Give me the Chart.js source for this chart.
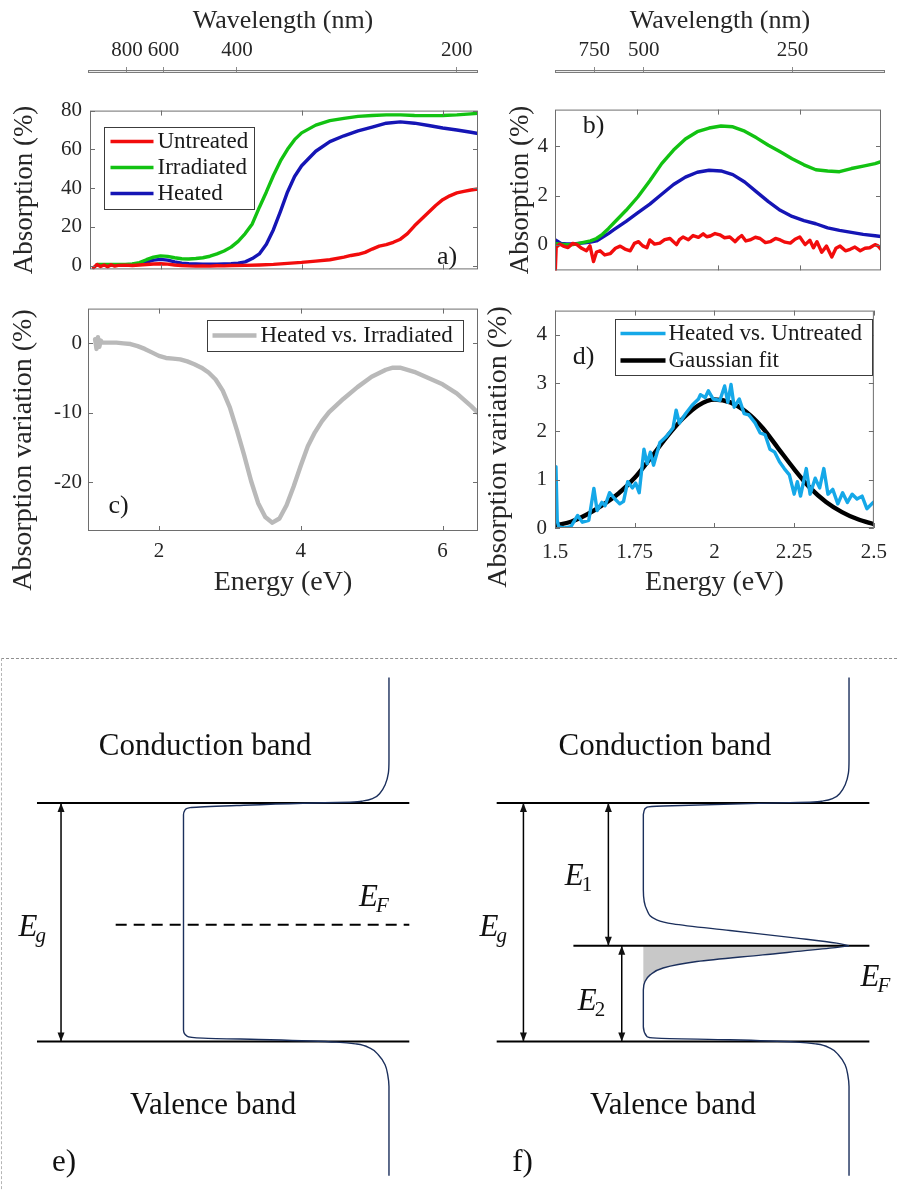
<!DOCTYPE html>
<html lang="en">
<head>
<meta charset="utf-8">
<title>Absorption spectra and band diagrams</title>
<script src="https://cdn.jsdelivr.net/npm/chart.js@4.4.1/dist/chart.umd.min.js"></script>
<style>
  html, body { margin: 0; padding: 0; background: #fff; }
  #figure { position: relative; width: 899px; height: 1191px; overflow: hidden; background: #fff; }
  #figure canvas { position: absolute; }
  #frame { position: absolute; left: 1px; top: 658px; width: 910px; height: 560px;
           border-top: 1px dashed #8f8f8f; border-left: 1px dashed #b5b5b5; }
</style>
</head>
<body>
<div id="figure">
  <div id="frame"></div>
  <canvas id="waveA" width="480" height="74" style="left:0;top:0"></canvas>
  <canvas id="chartA" width="480" height="200" style="left:0;top:90px"></canvas>
  <canvas id="waveB" width="419" height="74" style="left:480px;top:0"></canvas>
  <canvas id="chartB" width="419" height="200" style="left:480px;top:90px"></canvas>
  <canvas id="chartC" width="480" height="310" style="left:0;top:290px"></canvas>
  <canvas id="chartD" width="419" height="310" style="left:480px;top:290px"></canvas>
  <canvas id="bandE" width="450" height="541" style="left:0;top:650px"></canvas>
  <canvas id="bandF" width="449" height="541" style="left:450px;top:650px"></canvas>
</div>
<script>
const SERIF = "'Liberation Serif', 'Times New Roman', serif";
Chart.defaults.font.family = SERIF;
Chart.defaults.color = '#262626';

// ======== DATA ========
const HC = 1239.84; // eV*nm, wavelength -> photon energy

// wavelength axes on top of a) and b)
const waveTicksA = [800, 600, 400, 200];
const waveTicksB = [750, 500, 250];

// a) absorption spectra
const energyA = [1.1, 1.2, 1.3, 1.4, 1.5, 1.6, 1.7, 1.8, 1.9, 2.0, 2.1, 2.2, 2.3, 2.4, 2.5, 2.6, 2.7, 2.8, 2.9, 3.0,
  3.1, 3.2, 3.3, 3.4, 3.5, 3.6, 3.7, 3.8, 3.9, 4.0, 4.2, 4.4, 4.6, 4.8, 5.0, 5.2, 5.4, 5.6, 5.8, 6.0, 6.2, 6.4, 6.5];
const irradiatedA = [0.5, 0.5, 0.5, 0.5, 0.6, 0.8, 1.5, 3.0, 4.3, 5.0, 4.7, 4.0, 3.5, 3.4, 3.6, 4.0, 4.8, 6.0, 7.5, 9.5,
  12.5, 16.5, 21.5, 30, 38, 46.5, 54, 60, 65, 68.5, 72.5, 74.8, 76, 77, 77.5, 77.8, 77.8, 77.5, 77.4, 77.5, 77.8, 78.3, 78.6];
const heatedA = [0.3, 0.3, 0.3, 0.3, 0.4, 0.6, 1.0, 1.8, 2.8, 3.2, 2.8, 1.9, 1.2, 0.9, 0.8, 0.7, 0.7, 0.7, 0.8, 0.9,
  1.2, 1.9, 3.6, 6.0, 11, 18.5, 28, 38, 46, 51.5, 59, 64, 67, 69.5, 71.5, 73.5, 74.2, 73.5, 72.3, 71, 70, 68.8, 68.2];
const energyUntreatedA = [1.05, 1.1, 1.15, 1.2, 1.25, 1.3, 1.35, 1.4, 1.5, 1.6, 1.7, 1.8, 1.9, 2.0, 2.1, 2.2, 2.3, 2.4, 2.5, 2.6,
  2.7, 2.8, 2.9, 3.0, 3.2, 3.4, 3.6, 3.8, 4.0, 4.2, 4.4, 4.6, 4.7, 4.8, 4.9, 5.0, 5.1, 5.2, 5.3, 5.4,
  5.5, 5.6, 5.7, 5.8, 5.9, 6.0, 6.1, 6.2, 6.3, 6.4, 6.5];
const untreatedA = [-1.2, 0.5, -0.5, 0.3, -0.6, 0.4, -0.3, 0.1, 0.2, 0, 0.3, 0.5, 0.8, 0.9, 0.7, 0.3, 0, -0.2, -0.3, -0.2,
  -0.3, -0.1, -0.2, 0, 0.1, 0.3, 0.6, 1.1, 1.6, 2.3, 3.0, 4.3, 5.2, 5.8, 6.8, 8.5, 10, 10.8, 12, 13.6,
  16.5, 20.5, 24, 27.5, 31, 34, 36, 37.5, 38.3, 39, 39.5];
const xTicksA = [2, 4, 6];
const yTicksA = [0, 20, 40, 60, 80];

// b) low absorption detail
const energyB = [1.0, 1.1, 1.2, 1.3, 1.4, 1.5, 1.6, 1.7, 1.8, 1.9, 2.0, 2.2, 2.4, 2.6, 2.8, 3.0, 3.2, 3.4, 3.6, 3.8,
  4.0, 4.2, 4.4, 4.6, 4.8, 5.0, 5.2, 5.4, 5.6, 5.8, 6.0, 6.2, 6.4, 6.5];
const irradiatedB = [0.05, 0.02, 0, 0, 0.05, 0.1, 0.15, 0.25, 0.42, 0.65, 0.9, 1.4, 1.95, 2.6, 3.3, 3.85, 4.3, 4.6, 4.75, 4.83,
  4.8, 4.62, 4.35, 4.05, 3.78, 3.5, 3.25, 3.05, 3.0, 2.97, 3.1, 3.2, 3.3, 3.38];
const heatedB = [0.2, 0.05, 0.03, 0.03, 0.05, 0.07, 0.1, 0.15, 0.3, 0.45, 0.62, 0.95, 1.3, 1.65, 2.05, 2.45, 2.75, 2.95, 3.03, 3.0,
  2.85, 2.55, 2.15, 1.75, 1.4, 1.15, 0.98, 0.85, 0.68, 0.58, 0.5, 0.42, 0.36, 0.33];
const energyUntreatedB = [1.0, 1.005, 1.02, 1.08, 1.14, 1.22, 1.3, 1.37, 1.45, 1.53, 1.59, 1.65, 1.7, 1.76, 1.84, 1.93, 2.02, 2.10, 2.18, 2.27,
  2.34, 2.41, 2.48, 2.55, 2.60, 2.68, 2.77, 2.85, 2.94, 3.05, 3.1, 3.16, 3.25, 3.33, 3.42, 3.5, 3.56, 3.62, 3.7, 3.78,
  3.86, 3.95, 4.04, 4.1, 4.15, 4.22, 4.29, 4.38, 4.46, 4.55, 4.63, 4.72, 4.80, 4.88, 4.97, 5.05, 5.13, 5.22, 5.3, 5.36,
  5.42, 5.5, 5.58, 5.67, 5.74, 5.81, 5.9, 5.98, 6.06, 6.15, 6.23, 6.31, 6.4, 6.45, 6.5];
const untreatedB = [-0.13, -1.05, -0.1, 0.02, -0.06, -0.12, 0.05, 0, -0.15, -0.25, -0.05, -0.69, -0.3, -0.25, -0.42, -0.37, -0.15, -0.06, -0.18, -0.25,
  0.05, 0.12, -0.05, -0.13, 0.19, 0.02, 0.06, 0.2, 0.25, 0, 0.2, 0.31, 0.2, 0.37, 0.3, 0.44, 0.32, 0.35, 0.45, 0.4,
  0.28, 0.31, 0.12, 0.28, 0.37, 0.15, 0.19, 0.3, 0.25, 0.08, 0.12, 0.25, 0.19, 0.1, 0.06, 0.22, 0.31, 0, 0.18, -0.13,
  0.12, -0.31, -0.06, -0.5, -0.15, -0.06, -0.25, -0.19, -0.1, -0.25, -0.15, -0.13, 0, -0.05, -0.19];
const xTicksB = [2.38, 3.75, 5.13];
const yTicksB = [0, 2, 4];

// c) heated vs. irradiated
const energyC = [1.1, 1.12, 1.14, 1.16, 1.18, 1.2, 1.3, 1.4, 1.5, 1.6, 1.7, 1.8, 1.9, 2.0, 2.1, 2.2, 2.3, 2.4, 2.5, 2.6,
  2.7, 2.8, 2.9, 3.0, 3.1, 3.2, 3.3, 3.4, 3.5, 3.6, 3.7, 3.8, 3.9, 4.0, 4.1, 4.2, 4.3, 4.4, 4.6, 4.8,
  5.0, 5.2, 5.3, 5.4, 5.6, 5.8, 6.0, 6.2, 6.4, 6.5];
const heatedVsIrradiated = [0.6, -0.8, 0.9, -0.5, 0.4, 0.1, 0.1, 0.1, 0, -0.1, -0.4, -0.8, -1.3, -1.8, -2.1, -2.2, -2.3, -2.6, -3.0, -3.5,
  -4.2, -5.2, -6.8, -9.2, -12.5, -16.0, -19.8, -23.0, -25.0, -25.8, -25.2, -23.3, -20.6, -17.6, -14.8, -12.8, -11.2, -9.9, -8.0, -6.3,
  -4.8, -3.8, -3.5, -3.5, -4.1, -5.0, -5.9, -7.2, -9.0, -10.0];
const xTicksC = [2, 4, 6];
const yTicksC = [-20, -10, 0];

// d) heated vs. untreated + gaussian fit
const energyD = [1.5, 1.503, 1.507, 1.512, 1.53, 1.55, 1.571, 1.586, 1.606, 1.622, 1.632, 1.647, 1.657, 1.671, 1.688, 1.703, 1.715, 1.728, 1.743, 1.753,
  1.764, 1.779, 1.789, 1.799, 1.809, 1.829, 1.85, 1.87, 1.88, 1.89, 1.91, 1.93, 1.95, 1.956, 1.971, 1.981, 1.996, 2.017, 2.032, 2.042,
  2.052, 2.062, 2.078, 2.093, 2.108, 2.128, 2.143, 2.159, 2.174, 2.189, 2.204, 2.219, 2.235, 2.25, 2.26, 2.27, 2.288, 2.30, 2.316, 2.33,
  2.343, 2.356, 2.371, 2.387, 2.402, 2.417, 2.432, 2.447, 2.463, 2.478, 2.498];
const heatedVsUntreated = [0.25, 1.27, 0.15, 0.02, 0.0, 0.03, 0.26, 0.12, 0.16, 0.82, 0.36, 0.53, 0.46, 0.73, 0.6, 0.5, 0.55, 0.96, 0.83, 0.93,
  0.73, 1.63, 1.33, 1.57, 1.3, 1.77, 1.9, 2.07, 2.44, 2.17, 2.37, 2.54, 2.67, 2.76, 2.70, 2.84, 2.67, 2.64, 2.94, 2.6,
  2.97, 2.5, 2.67, 2.37, 2.34, 2.17, 1.97, 1.93, 1.63, 1.57, 1.37, 1.23, 1.1, 0.70, 0.96, 0.66, 1.23, 0.7, 1.03, 0.83,
  1.23, 0.70, 0.80, 0.50, 0.73, 0.53, 0.70, 0.6, 0.66, 0.4, 0.53];
const energyFit = [1.5, 1.55, 1.6, 1.65, 1.7, 1.75, 1.8, 1.85, 1.9, 1.95, 2.0, 2.05, 2.1, 2.15, 2.2, 2.25, 2.3, 2.35, 2.4, 2.45, 2.5];
const gaussianFit = [0.05, 0.13, 0.28, 0.48, 0.72, 1.04, 1.45, 1.88, 2.26, 2.54, 2.66, 2.6, 2.4, 2.08, 1.65, 1.22, 0.83, 0.54, 0.33, 0.18, 0.08];
const xTicksD = [1.5, 1.75, 2, 2.25, 2.5];
const yTicksD = [0, 1, 2, 3, 4];

// e), f) band diagrams: E = energy (valence edge 0, conduction edge 1), D = density of states (a.u.)
const bandEdgeD = [-0.713, 1.099];
const fermiE_e = 0.489;
const fermiLineD_e = [-0.330, 1.099];
const fermiE_f = 0.401;
const fermiLineD_f = [-0.340, 1.099];
const dosD_e = [1.0, 1.0, 0.997, 0.981, 0.956, 0.924, 0.875, 0.810, 0.582, 0.259, 0.032, 0.007, 0, 0,
  0.016, 0.095, 0.421, 0.745, 0.843, 0.908, 0.948, 0.981, 0.994, 1.0, 1.0];
const dosE_e = [1.526, 1.180, 1.1245, 1.0754, 1.0407, 1.0197, 1.0084, 1.0029, 0.9987, 0.989, 0.980, 0.970, 0.950, 0.049,
  0.023, 0.014, 0.007, -0.003, -0.011, -0.028, -0.056, -0.098, -0.140, -0.189, -0.563];
const dosUpperD_f = [1.0, 1.0, 0.997, 0.981, 0.956, 0.924, 0.875, 0.810, 0.713, 0.096, 0.018, 0.003, 0, 0,
  0.017, 0.065, 0.144, 0.421, 0.746, 0.940, 1.0];
const dosUpperE_f = [1.526, 1.180, 1.1245, 1.0754, 1.0407, 1.0197, 1.0084, 1.0029, 1.001, 0.987, 0.982, 0.964, 0.950, 0.635,
  0.552, 0.510, 0.493, 0.465, 0.433, 0.412, 0.401];
const dosLowerD_f = [1.0, 0.907, 0.581, 0.260, 0.096, 0.033, 0.008, 0, 0, 0.017,
  0.065, 0.421, 0.745, 0.843, 0.908, 0.948, 0.981, 0.994, 1.0, 1.0];
const dosLowerE_f = [0.401, 0.391, 0.363, 0.335, 0.308, 0.279, 0.251, 0.216, 0.062, 0.021,
  0.014, 0.007, -0.003, -0.011, -0.028, -0.056, -0.098, -0.140, -0.189, -0.563];
const occupiedD_f = [1.0, 0.907, 0.581, 0.260, 0.096, 0.033, 0.008, 0];
const occupiedE_f = [0.401, 0.391, 0.363, 0.335, 0.308, 0.279, 0.251, 0.216];
const gapArrowD_e = -0.596;
const gapArrowD_f = -0.583;
const e1ArrowD_f = -0.170;
const e2ArrowD_f = -0.105;

const pts = (xs, ys) => xs.map((x, i) => ({ x, y: ys[i] }));

// ======== PLUGINS ========
function drawLegend(chart, L) {
  const { ctx, chartArea: a } = chart;
  const x0 = Math.round(a.left + L.left) + 0.5, y0 = Math.round(a.top + L.top) + 0.5;
  ctx.fillStyle = '#fff';
  ctx.fillRect(x0, y0, L.width, L.height);
  ctx.strokeStyle = '#3c3c3c';
  ctx.lineWidth = 1;
  ctx.strokeRect(x0, y0, L.width, L.height);
  ctx.font = `${L.size}px ${SERIF}`;
  ctx.textBaseline = 'middle';
  ctx.textAlign = 'left';
  chart.data.datasets.forEach((ds, i) => {
    const y = y0 + L.first + i * L.step;
    ctx.strokeStyle = ds.borderColor;
    ctx.lineWidth = ds.borderWidth;
    ctx.beginPath();
    ctx.moveTo(x0 + L.lineFrom, y);
    ctx.lineTo(x0 + L.lineTo, y);
    ctx.stroke();
    ctx.fillStyle = '#1a1a1a';
    ctx.fillText(ds.label, x0 + L.textX, y);
  });
}

const panelDeco = {
  id: 'panelDeco',
  beforeDraw(chart, args, o) {
    if (!o.strip) return;
    const { ctx, chartArea: a } = chart;
    ctx.save();
    ctx.fillStyle = '#ececec';
    ctx.fillRect(a.left, a.top, a.width, a.height);
    ctx.restore();
  },
  afterDraw(chart, args, o) {
    const { ctx, chartArea: a, scales } = chart;
    ctx.save();
    if (o.strip) {
      ctx.strokeStyle = '#7b7b7b';
      ctx.lineWidth = 1;
      ctx.strokeRect(a.left + 0.5, a.top + 0.5, a.width - 1, a.height - 1);
    }
    if (o.box) {
      // MATLAB style box with inward ticks on all four sides
      ctx.strokeStyle = '#6e6e6e';
      ctx.lineWidth = 1;
      ctx.strokeRect(a.left + 0.5, a.top + 0.5, a.width - 1, a.height - 1);
      ctx.beginPath();
      scales.x.ticks.forEach(t => {
        const p = Math.round(scales.x.getPixelForValue(t.value)) + 0.5;
        ctx.moveTo(p, a.top); ctx.lineTo(p, a.top + 5);
        ctx.moveTo(p, a.bottom); ctx.lineTo(p, a.bottom - 5);
      });
      scales.y.ticks.forEach(t => {
        const p = Math.round(scales.y.getPixelForValue(t.value)) + 0.5;
        ctx.moveTo(a.left, p); ctx.lineTo(a.left + 5, p);
        ctx.moveTo(a.right, p); ctx.lineTo(a.right - 5, p);
      });
      ctx.stroke();
    }
    if (o.legend) drawLegend(chart, o.legend);
    if (o.tag) {
      ctx.fillStyle = '#1a1a1a';
      ctx.font = `26px ${SERIF}`;
      ctx.textAlign = 'center';
      ctx.textBaseline = 'middle';
      ctx.fillText(o.tag.text, a.left + o.tag.x, a.top + o.tag.y);
    }
    if (o.yTitle) {
      ctx.fillStyle = '#262626';
      ctx.font = `28px ${SERIF}`;
      ctx.textAlign = 'center';
      ctx.textBaseline = 'middle';
      ctx.translate(o.yTitle.x, o.yTitle.y);
      ctx.rotate(-Math.PI / 2);
      ctx.fillText(o.yTitle.text, 0, 0);
    }
    ctx.restore();
  }
};

function arrowHead(ctx, tip, from) {
  const dx = tip.x - from.x, dy = tip.y - from.y;
  const d = Math.hypot(dx, dy);
  const ux = dx / d, uy = dy / d;
  const bx = tip.x - ux * 9, by = tip.y - uy * 9;
  ctx.beginPath();
  ctx.moveTo(tip.x, tip.y);
  ctx.lineTo(bx - uy * 3.5, by + ux * 3.5);
  ctx.lineTo(bx + uy * 3.5, by - ux * 3.5);
  ctx.closePath();
  ctx.fill();
}

function drawBandLabel(ctx, l, x, y) {
  ctx.fillStyle = '#111';
  ctx.font = `${l.italic ? 'italic ' : ''}${l.size}px ${SERIF}`;
  if (!l.sub) {
    ctx.textAlign = 'center';
    ctx.textBaseline = 'middle';
    ctx.fillText(l.t, x, y);
    return;
  }
  const w = ctx.measureText(l.t).width;
  const base = y + l.size * 0.33;
  ctx.textAlign = 'left';
  ctx.textBaseline = 'alphabetic';
  ctx.fillText(l.t, x - w / 2, base);
  ctx.font = `${l.subItalic ? 'italic ' : ''}${Math.round(l.size * 0.68)}px ${SERIF}`;
  ctx.fillText(l.sub, x + w / 2 - l.size * 0.06, base + l.size * 0.2);
}

const bandDeco = {
  id: 'bandDeco',
  afterDatasetsDraw(chart, args, o) {
    if (!o.labels) return;
    const { ctx, scales: { x, y } } = chart;
    ctx.save();
    ctx.fillStyle = '#111';
    chart.data.datasets.forEach((ds, i) => {
      if (!ds.arrow) return;
      const [p, q] = chart.getDatasetMeta(i).data;
      arrowHead(ctx, p, q);
      arrowHead(ctx, q, p);
    });
    o.labels.forEach(l => drawBandLabel(ctx, l, x.getPixelForValue(l.D), y.getPixelForValue(l.E)));
    ctx.restore();
  }
};

Chart.register(panelDeco, bandDeco);

// ======== WAVELENGTH AXES ========
function waveAxis(id, waves, pad) {
  return new Chart(document.getElementById(id), {
    type: 'line',
    data: { datasets: [] },
    options: {
      responsive: false, animation: false, devicePixelRatio: 1,
      layout: { padding: pad },
      plugins: { legend: { display: false }, tooltip: { enabled: false }, panelDeco: { strip: true } },
      scales: {
        x: {
          type: 'linear', position: 'top', min: 1, max: 6.5, bounds: 'data',
          afterBuildTicks: s => { s.ticks = waves.map(w => ({ value: HC / w })); },
          afterFit: s => { s.height = 70; },
          grid: { display: true, drawOnChartArea: true, drawTicks: true, tickLength: 3, color: '#8a8a8a' },
          border: { display: false },
          ticks: { font: { size: 21 }, padding: 4, autoSkip: false, maxRotation: 0, callback: (v, i) => String(waves[i]) },
          title: { display: true, text: 'Wavelength (nm)', font: { size: 26 }, padding: { top: 6, bottom: 0 } }
        },
        y: { display: false, min: 0, max: 1 }
      }
    }
  });
}
waveAxis('waveA', waveTicksA, { left: 88, right: 2, top: 0, bottom: 1 });
waveAxis('waveB', waveTicksB, { left: 75, right: 14, top: 0, bottom: 1 });

// ======== SPECTRA ========
function spectrumChart(id, s) {
  return new Chart(document.getElementById(id), {
    type: 'line',
    data: { datasets: s.datasets },
    options: {
      responsive: false, animation: false, devicePixelRatio: 1,
      layout: { padding: s.padding },
      elements: { point: { radius: 0 }, line: { tension: 0, borderJoinStyle: 'round', borderCapStyle: 'round' } },
      plugins: { legend: { display: false }, tooltip: { enabled: false }, panelDeco: s.deco },
      scales: {
        x: {
          type: 'linear', min: s.x.min, max: s.x.max, bounds: 'data',
          afterBuildTicks: sc => { sc.ticks = s.x.ticks.map(v => ({ value: v })); },
          afterFit: sc => { sc.height = s.x.height; },
          grid: { display: false, drawTicks: false },
          border: { display: false },
          ticks: { display: !!s.x.labels, padding: s.x.pad || 0, font: { size: 21 }, autoSkip: false, maxRotation: 0, callback: v => String(v) },
          title: { display: !!s.x.title, text: s.x.title || '', font: { size: 28 }, padding: { top: 0, bottom: 1 } }
        },
        y: {
          type: 'linear', min: s.y.min, max: s.y.max, bounds: 'data',
          afterBuildTicks: sc => { sc.ticks = s.y.ticks.map(v => ({ value: v })); },
          afterFit: sc => { sc.width = s.y.width; },
          grid: { display: false, drawTicks: false },
          border: { display: false },
          ticks: { padding: s.y.pad, font: { size: 21 }, autoSkip: false, callback: v => String(v) },
          title: { display: !!s.y.title, text: s.y.title || '', font: { size: 27 }, padding: { top: s.y.titlePad || 0, bottom: 0 } }
        }
      }
    }
  });
}

const RED = '#f20c0c', GREEN = '#12c212', BLUE = '#1515b5';

spectrumChart('chartA', {
  padding: { left: 0, top: 16, right: 2, bottom: 0 },
  datasets: [
    { label: 'Untreated', data: pts(energyUntreatedA, untreatedA), borderColor: RED, borderWidth: 3.4 },
    { label: 'Irradiated', data: pts(energyA, irradiatedA), borderColor: GREEN, borderWidth: 3.4 },
    { label: 'Heated', data: pts(energyA, heatedA), borderColor: BLUE, borderWidth: 3.4 }
  ],
  x: { min: 1, max: 6.5, ticks: xTicksA, height: 10 },
  y: { min: -2, max: 80, ticks: yTicksA, width: 90, pad: 8, title: 'Absorption (%)', titlePad: 9 },
  deco: {
    box: true, tag: { text: 'a)', x: 357, y: 147 },
    legend: { left: 14, top: 16, width: 150, height: 82, first: 14, step: 26, lineFrom: 6, lineTo: 49, textX: 53, size: 23 }
  }
});

spectrumChart('chartB', {
  padding: { left: 0, top: 17, right: 18, bottom: 0 },
  datasets: [
    { label: 'Untreated', data: pts(energyUntreatedB, untreatedB), borderColor: RED, borderWidth: 3.4 },
    { label: 'Irradiated', data: pts(energyB, irradiatedB), borderColor: GREEN, borderWidth: 3.4 },
    { label: 'Heated', data: pts(energyB, heatedB), borderColor: BLUE, borderWidth: 3.4 }
  ],
  x: { min: 1, max: 6.5, ticks: xTicksB, height: 9 },
  y: { min: -1.05, max: 5.5, ticks: yTicksB, width: 75, pad: 7, title: 'Absorption (%)', titlePad: 25 },
  deco: { box: true, tag: { text: 'b)', x: 38.5, y: 17 } }
});

spectrumChart('chartC', {
  padding: { left: 0, top: 14, right: 2, bottom: 0 },
  datasets: [
    { label: 'Heated vs. Irradiated', data: pts(energyC, heatedVsIrradiated), borderColor: '#b9b9b9', borderWidth: 4.4 }
  ],
  x: { min: 1, max: 6.5, ticks: xTicksC, height: 69, labels: true, pad: 8, title: 'Energy (eV)' },
  y: { min: -27, max: 5, ticks: yTicksC, width: 88, pad: 6 },
  deco: {
    box: true, tag: { text: 'c)', x: 30.5, y: 198 },
    yTitle: { text: 'Absorption variation (%)', x: 24, y: 160 },
    legend: { left: 119, top: 11, width: 256, height: 31, first: 15, step: 0, lineFrom: 5, lineTo: 49, textX: 53, size: 23 }
  }
});

spectrumChart('chartD', {
  padding: { left: 0, top: 14, right: 15, bottom: 0 },
  datasets: [
    { label: 'Heated vs. Untreated', data: pts(energyD, heatedVsUntreated), borderColor: '#15a8e8', borderWidth: 3.4 },
    { label: 'Gaussian fit', data: pts(energyFit, gaussianFit), borderColor: '#000', borderWidth: 4.4, cubicInterpolationMode: 'monotone' }
  ],
  x: { min: 1.5, max: 2.5, ticks: xTicksD, height: 72, labels: true, pad: 12, title: 'Energy (eV)' },
  y: { min: 0, max: 4.5, ticks: yTicksD, width: 75, pad: 8 },
  deco: {
    box: true, tag: { text: 'd)', x: 28.5, y: 47 },
    yTitle: { text: 'Absorption variation (%)', x: 19, y: 157 },
    legend: { left: 60, top: 8, width: 257, height: 56, first: 14, step: 27, lineFrom: 5, lineTo: 50, textX: 53, size: 23 }
  }
});

// ======== BAND DIAGRAMS ========
const NAVY = '#1b2f5c';
const straight = (D, E, extra) => Object.assign({ data: pts(D, E), borderColor: '#000', borderWidth: 2 }, extra || {});
const dosCurve = (D, E) => ({ data: pts(D, E), borderColor: NAVY, borderWidth: 1.4, cubicInterpolationMode: 'monotone' });

function bandChart(id, b) {
  return new Chart(document.getElementById(id), {
    type: 'line',
    data: { datasets: b.datasets },
    options: {
      responsive: false, animation: false, devicePixelRatio: 1,
      indexAxis: 'y',
      layout: { padding: 0 },
      elements: { point: { radius: 0 }, line: { tension: 0 } },
      plugins: { legend: { display: false }, tooltip: { enabled: false }, bandDeco: { labels: b.labels } },
      scales: {
        x: { type: 'linear', display: false, min: b.dMin, max: b.dMax },
        y: { type: 'linear', display: false, min: -0.627, max: 1.641 }
      }
    }
  });
}

bandChart('bandE', {
  dMin: -0.893, dMax: 1.297,
  datasets: [
    dosCurve(dosD_e, dosE_e),
    straight(bandEdgeD, [1, 1]),
    straight(bandEdgeD, [0, 0]),
    straight(fermiLineD_e, [fermiE_e, fermiE_e], { borderDash: [11, 7] }),
    straight([gapArrowD_e, gapArrowD_e], [0, 1], { borderWidth: 1.5, arrow: true })
  ],
  labels: [
    { t: 'Conduction band', D: 0.105, E: 1.236, size: 31 },
    { t: 'Valence band', D: 0.144, E: -0.268, size: 31 },
    { t: 'e)', D: -0.581, E: -0.507, size: 31 },
    { t: 'E', sub: 'g', italic: true, subItalic: true, D: -0.757, E: 0.485, size: 31 },
    { t: 'E', sub: 'F', italic: true, subItalic: true, D: 0.900, E: 0.610, size: 31 }
  ]
});

bandChart('bandF', {
  dMin: -0.940, dMax: 1.243,
  datasets: [
    dosCurve(dosUpperD_f, dosUpperE_f),
    dosCurve(dosLowerD_f, dosLowerE_f),
    straight(bandEdgeD, [1, 1]),
    straight(bandEdgeD, [0, 0]),
    straight(fermiLineD_f, [fermiE_f, fermiE_f]),
    straight([gapArrowD_f, gapArrowD_f], [0, 1], { borderWidth: 1.5, arrow: true }),
    straight([e1ArrowD_f, e1ArrowD_f], [fermiE_f, 1], { borderWidth: 1.5, arrow: true }),
    straight([e2ArrowD_f, e2ArrowD_f], [0, fermiE_f], { borderWidth: 1.5, arrow: true }),
    { data: pts(occupiedD_f, occupiedE_f), borderWidth: 0, fill: 'origin', backgroundColor: '#c8c8c8', cubicInterpolationMode: 'monotone' }
  ],
  labels: [
    { t: 'Conduction band', D: 0.105, E: 1.236, size: 31 },
    { t: 'Valence band', D: 0.144, E: -0.268, size: 31 },
    { t: 'f)', D: -0.587, E: -0.507, size: 31 },
    { t: 'E', sub: 'g', italic: true, subItalic: true, D: -0.751, E: 0.485, size: 31 },
    { t: 'E', sub: '1', italic: true, D: -0.336, E: 0.698, size: 31 },
    { t: 'E', sub: '2', italic: true, D: -0.273, E: 0.176, size: 31 },
    { t: 'E', sub: 'F', italic: true, subItalic: true, D: 1.102, E: 0.275, size: 31 }
  ]
});
</script>
</body>
</html>
